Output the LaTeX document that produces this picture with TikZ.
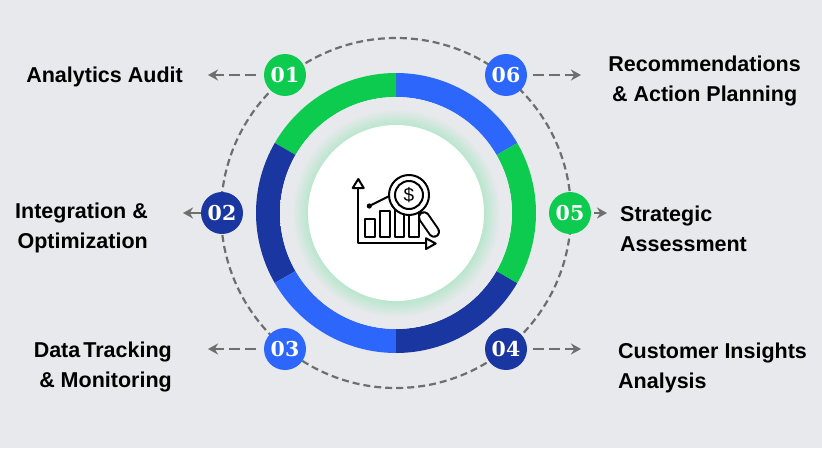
\documentclass[tikz,border=0pt]{standalone}
\usepackage{fontspec}
\newfontfamily\labelfont{Liberation Sans}
\newfontfamily\badgefont{DejaVu Serif}
\usetikzlibrary{arrows.meta}

\definecolor{pagegrey}{HTML}{E8E9ED}
\definecolor{leafgreen}{HTML}{0DCB4E}
\definecolor{brightblue}{HTML}{2D66FB}
\definecolor{deepblue}{HTML}{1A36A0}
\definecolor{leadergrey}{HTML}{6E6E6E}
\definecolor{glowgreen}{HTML}{B8E6CC}

\pgfdeclareradialshading{ringglow}{\pgfpoint{0bp}{0bp}}{%
	color(0bp)=(glowgreen); color(18.9bp)=(glowgreen); color(22.5bp)=(pagegrey); color(50bp)=(pagegrey)}

\tikzset{
	badge/.style={circle, fill=#1, text=white, minimum size=42pt, inner sep=0pt, font=\badgefont\fontsize{20.5}{20.5}\selectfont\bfseries},
	stagelabel/.style={inner sep=0pt, font=\labelfont\fontsize{21.5}{30}\selectfont\bfseries},
	leader/.style={draw=leadergrey, line width=2.4pt, dash pattern=on 11pt off 5pt, -{Stealth[length=10pt,width=11pt]}},
	orbit/.style={draw=leadergrey, line width=2.2pt, dash pattern=on 7pt off 4pt},
	icon/.style={line width=2pt, line join=round, line cap=round}
}

\newcommand{\ringpart}[3]{\fill[#1] ([shift={(#2:140pt)}]hub) arc[start angle=#2, end angle=#3, radius=140pt] -- ([shift={(#3:116pt)}]hub) arc[start angle=#3, end angle=#2, radius=116pt] -- cycle;}

\begin{document}
\begin{tikzpicture}[x=1pt,y=1pt]
	\fill[pagegrey] (0,0) rectangle (822,448);
	\useasboundingbox (0,0) rectangle (822,448);
	\coordinate (hub) at (396,235);

	% dashed orbit and ring
	\draw[orbit] (hub) circle[radius=175pt];
	\ringpart{brightblue}{30}{90}
	\ringpart{leafgreen}{90}{150}
	\ringpart{deepblue}{150}{210}
	\ringpart{brightblue}{210}{270}
	\ringpart{deepblue}{270}{330}
	\ringpart{leafgreen}{330}{390}
	\shade[shading=ringglow] (hub) circle[radius=116pt];
	\node[circle, fill=white, minimum size=176pt, inner sep=0pt] (core) at (hub) {};

	% badges
	\node[badge=leafgreen] (audit) at (285,373) {01};
	\node[badge=deepblue] (integration) at (222,235) {02};
	\node[badge=brightblue] (tracking) at (285,99) {03};
	\node[badge=deepblue] (insights) at (506,99) {04};
	\node[badge=leafgreen] (assessment) at (570,235) {05};
	\node[badge=brightblue] (planning) at (506,373) {06};

	% labels
	\node[stagelabel, anchor=east] (auditText) at (183,371) {Analytics Audit};
	\node[stagelabel, anchor=east, align=right] (integrationText) at (148,220) {Integration \&\\Optimization};
	\node[stagelabel, anchor=east, align=right] (trackingText) at (172,81) {Data\hspace{.14em}Tracking\\\& Monitoring};
	\node[stagelabel, anchor=west, align=left] (insightsText) at (618,80) {Customer Insights\\Analysis};
	\node[stagelabel, anchor=west, align=left] (assessmentText) at (620,219) {Strategic\\Assessment};
	\node[stagelabel, anchor=east, align=center] (planningText) at (801,367) {Recommendations\\\& Action Planning};

	% leaders
	\coordinate (auditEnd) at (208,373);
	\coordinate (integrationEnd) at (183,235);
	\coordinate (trackingEnd) at (208,99);
	\coordinate (insightsEnd) at (581,99);
	\coordinate (assessmentEnd) at (607,235);
	\coordinate (planningEnd) at (581,373);
	\draw[leader, shorten <=8pt] (audit) -- (auditEnd);
	\draw[leader, solid] (integration) -- (integrationEnd);
	\draw[leader, shorten <=8pt] (tracking) -- (trackingEnd);
	\draw[leader, shorten <=6pt] (insights) -- (insightsEnd);
	\draw[leader, shorten <=3pt, solid] (assessment) -- (assessmentEnd);
	\draw[leader, shorten <=6pt] (planning) -- (planningEnd);

	% chart icon
	\draw[icon] (358.3,260) -- (358.3,204.7) -- (426,204.7);
	\draw[icon, fill=white] (352.7,260) -- (358.3,269) -- (363.7,260) -- cycle;
	\draw[icon, fill=white] (426,209.7) -- (435.7,204.5) -- (426,199) -- cycle;
	\draw[icon] (365,228.7) rectangle (374.7,210.7);
	\draw[icon] (380,237) rectangle (389.7,210.7);
	\draw[icon] (394.7,245) rectangle (404.3,210.7);
	\draw[icon] (409.3,245) rectangle (419,210.7);
	\fill (369.3,242) circle[radius=2.6pt];
	\draw[icon] (369.3,242) -- (389.3,252);
	\draw[icon] (420,236) -- (424,231);
	\draw[line width=12pt, line cap=round] (424,230.7) -- (434,216.3);
	\draw[line width=8pt, line cap=round, white] (424,230.7) -- (434,216.3);
	\draw[icon, fill=white] (409,253) circle[radius=20pt];
	\draw[icon] (409,253) circle[radius=14pt];
	\node[font=\labelfont\fontsize{19}{19}\selectfont] (dollar) at (409,253) {\$};
\end{tikzpicture}
\end{document}
